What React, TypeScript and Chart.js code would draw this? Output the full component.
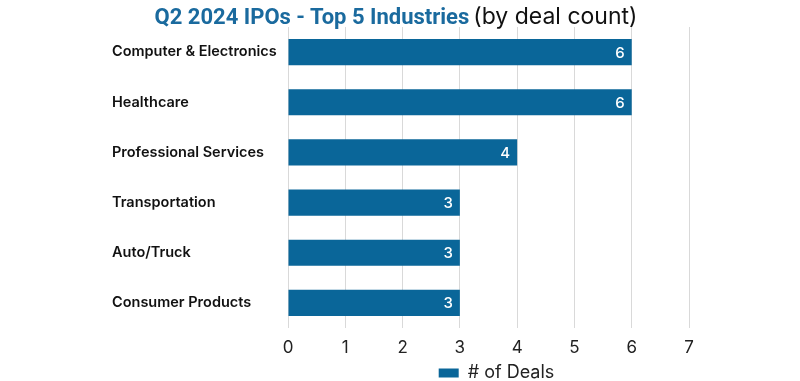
import React, { useEffect, useRef } from "react";
import { Chart, registerables } from "chart.js";

Chart.register(...registerables);

const categories = [
  "Computer & Electronics",
  "Healthcare",
  "Professional Services",
  "Transportation",
  "Auto/Truck",
  "Consumer Products",
];
const deals = [6, 6, 4, 3, 3, 3];
const xTicks = [0, 1, 2, 3, 4, 5, 6, 7];
const seriesName = "# of Deals";
const titleMain = "Q2 2024 IPOs - Top 5 Industries";
const titleSub = "(by deal count)";

const BAR = "#0a6699";
const FONT = "Inter, 'Noto Sans', sans-serif";

const valueLabels = {
  id: "valueLabels",
  afterDatasetsDraw(chart: any) {
    const ctx = chart.ctx;
    const meta = chart.getDatasetMeta(0);
    ctx.save();
    ctx.fillStyle = "#ffffff";
    ctx.font = `500 15px ${FONT}`;
    ctx.textAlign = "right";
    ctx.textBaseline = "middle";
    meta.data.forEach((el: any, i: number) => {
      ctx.fillText(String(chart.data.datasets[0].data[i]), el.x - 7, el.y + 1);
    });
    ctx.restore();
  },
};

const legendShift = {
  id: "legendShift",
  afterLayout(chart: any) {
    const l = chart.legend;
    if (l) {
      l.left += 96;
      l.right += 96;
    }
  },
};

export default function App() {
  const ref = useRef<HTMLCanvasElement>(null);
  useEffect(() => {
    const chart = new Chart(ref.current!, {
      type: "bar",
      data: {
        labels: categories,
        datasets: [
          {
            label: seriesName,
            data: deals,
            backgroundColor: BAR,
            borderWidth: 0,
            categoryPercentage: 0.52,
            barPercentage: 1,
          },
        ],
      },
      options: {
        indexAxis: "y",
        animation: false,
        responsive: false,
        maintainAspectRatio: false,
        layout: { padding: { left: 112, right: 111, top: 27, bottom: -11 } },
        plugins: {
          title: { display: false },
          tooltip: { enabled: false },
          legend: {
            position: "bottom",
            labels: {
              boxWidth: 20,
              boxHeight: 9,
              padding: 0,
              color: "#222",
              font: { family: FONT, size: 18 },
            },
          },
        },
        scales: {
          x: {
            min: 0,
            max: 7,
            afterBuildTicks: (s: any) => {
              s.ticks = xTicks.map((v) => ({ value: v }));
            },
            afterFit: (s: any) => {
              s.height = 36;
            },
            border: { display: false },
            grid: { color: "#d9d9d9", drawTicks: false },
            ticks: {
              padding: 10,
              color: "#222",
              font: { family: FONT, size: 17 },
            },
          },
          y: {
            afterFit: (s: any) => {
              s.width = 176;
            },
            border: { display: false },
            grid: { display: false },
            ticks: {
              crossAlign: "far",
              color: "#111",
              font: { family: FONT, size: 14.5, weight: "600" },
            },
          },
        },
      },
      plugins: [valueLabels, legendShift],
    });
    return () => chart.destroy();
  }, []);

  return (
    <div style={{ position: "fixed", top: 0, left: 0, width: 800, height: 381, background: "#fff" }}>
      <div
        style={{
          position: "absolute",
          top: 1,
          left: 0,
          width: 792,
          textAlign: "center",
          lineHeight: "30px",
          whiteSpace: "nowrap",
        }}
      >
        <span style={{ color: "#1a6a9e", fontWeight: 700, fontSize: 22, fontFamily: "Roboto, sans-serif" }}>
          {titleMain}
        </span>{" "}
        <span style={{ color: "#111", fontWeight: 400, fontSize: 23, fontFamily: FONT }}>{titleSub}</span>
      </div>
      <canvas ref={ref} width={800} height={381} style={{ display: "block" }} />
    </div>
  );
}
